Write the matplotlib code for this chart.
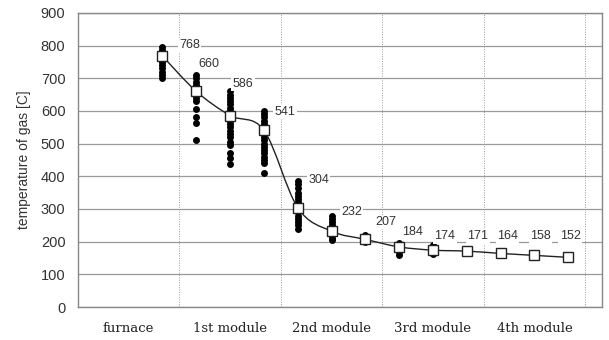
import numpy as np
import matplotlib
matplotlib.use('Agg')
import matplotlib.pyplot as plt
from matplotlib.path import Path
from matplotlib.patches import PathPatch

# mean gas temperature at each measuring point
mean_temp = [768, 660, 586, 541, 304, 232, 207, 184, 174, 171, 164, 158, 152]

# individual measurements (black dots), one list per measuring point
samples = [
    [700, 710, 720, 730, 740, 750, 760, 775, 785, 795],
    [710, 700, 690, 680, 670, 660, 650, 640, 630, 605, 583, 562, 510],
    [660, 650, 640, 630, 620, 610, 600, 590, 580, 570, 560, 550, 540, 530, 520,
     505, 495, 470, 455, 438],
    [600, 590, 580, 570, 560, 550, 540, 530, 520, 510, 500, 490, 480, 470, 460,
     450, 440, 410],
    [385, 375, 365, 350, 340, 330, 320, 310, 300, 290, 280, 270, 260, 250, 240],
    [280, 270, 260, 250, 240, 230, 220, 210, 205],
    [220, 212, 205, 198],
    [195, 185, 175, 168, 160],
    [190, 180, 170, 162],
]

sections = ['furnace', '1st module', '2nd module', '3rd module', '4th module']
yticks = [0, 100, 200, 300, 400, 500, 600, 700, 800, 900]

# label placement (offset in px, label height in data units)
label_dx = [27, 13, 13, 21, 21, 20, 20, 13, 12, 11, 7, 6, 2]
label_y = [802, 744, 683, 597, 389, 291, 260, 230, 216, 216, 216, 216, 216]

x = np.arange(len(mean_temp)) + 2.5

fig = plt.figure(figsize=(6.09, 3.40), dpi=100)
ax = fig.add_axes([0.128, 0.097, 0.8605, 0.865])

ax.set_xlim(0, 15.5)
ax.set_ylim(0, 900)
ax.set_yticks(yticks)
ax.set_yticklabels([str(v) for v in yticks], fontsize=10.5, color='#333333',
                   family='Liberation Sans')
ax.set_xticks([1.5, 4.5, 7.5, 10.5, 13.5])
ax.set_xticklabels(sections, family='DejaVu Serif', fontsize=9.5, color='#222222')
ax.set_xticks([3, 6, 9, 12, 15], minor=True)
ax.tick_params(axis='both', which='both', length=0)
ax.tick_params(axis='x', pad=11)
ax.tick_params(axis='y', pad=9)

ax.grid(axis='y', color='#999999', lw=0.9)
ax.grid(axis='x', which='minor', color='#999999', lw=0.7, ls=(0, (1, 1.5)))
ax.set_axisbelow(True)
for s in ax.spines.values():
    s.set_color('#888888')
    s.set_linewidth(1.0)

ax.set_ylabel('temperature of gas [C]', fontsize=10, color='#333333',
              family='Liberation Sans', labelpad=7)

# measurement dots
for i, vals in enumerate(samples):
    ax.plot([x[i]] * len(vals), vals, 'o', color='black', ms=5, mew=0,
            zorder=3)

# smoothed line through means (catmull-rom as bezier segments)
pts = np.column_stack([x, mean_temp]).astype(float)
verts = [pts[0]]
codes = [Path.MOVETO]
n = len(pts)
for i in range(n - 1):
    p0 = pts[i - 1] if i > 0 else pts[i]
    p1 = pts[i]
    p2 = pts[i + 1]
    p3 = pts[i + 2] if i + 2 < n else pts[i + 1]
    c1 = p1 + (p2 - p0) / 6.0
    c2 = p2 - (p3 - p1) / 6.0
    verts += [c1, c2, p2]
    codes += [Path.CURVE4] * 3
ax.add_patch(PathPatch(Path(verts, codes), fill=False, edgecolor='#222222',
                       lw=1.0, zorder=4))

ax.plot(x, mean_temp, 's', ms=6.5, mfc='white', mec='#222222', mew=1.0,
        zorder=5)

for i, v in enumerate(mean_temp):
    ax.annotate(str(v), (x[i], label_y[i]), xytext=(label_dx[i], 0),
                textcoords='offset pixels', ha='center', va='center',
                fontsize=9, color='#333333', family='Liberation Sans',
                bbox=dict(boxstyle='square,pad=0.1', fc='white', ec='none'),
                zorder=6)

fig.savefig('out.png', dpi=100)
